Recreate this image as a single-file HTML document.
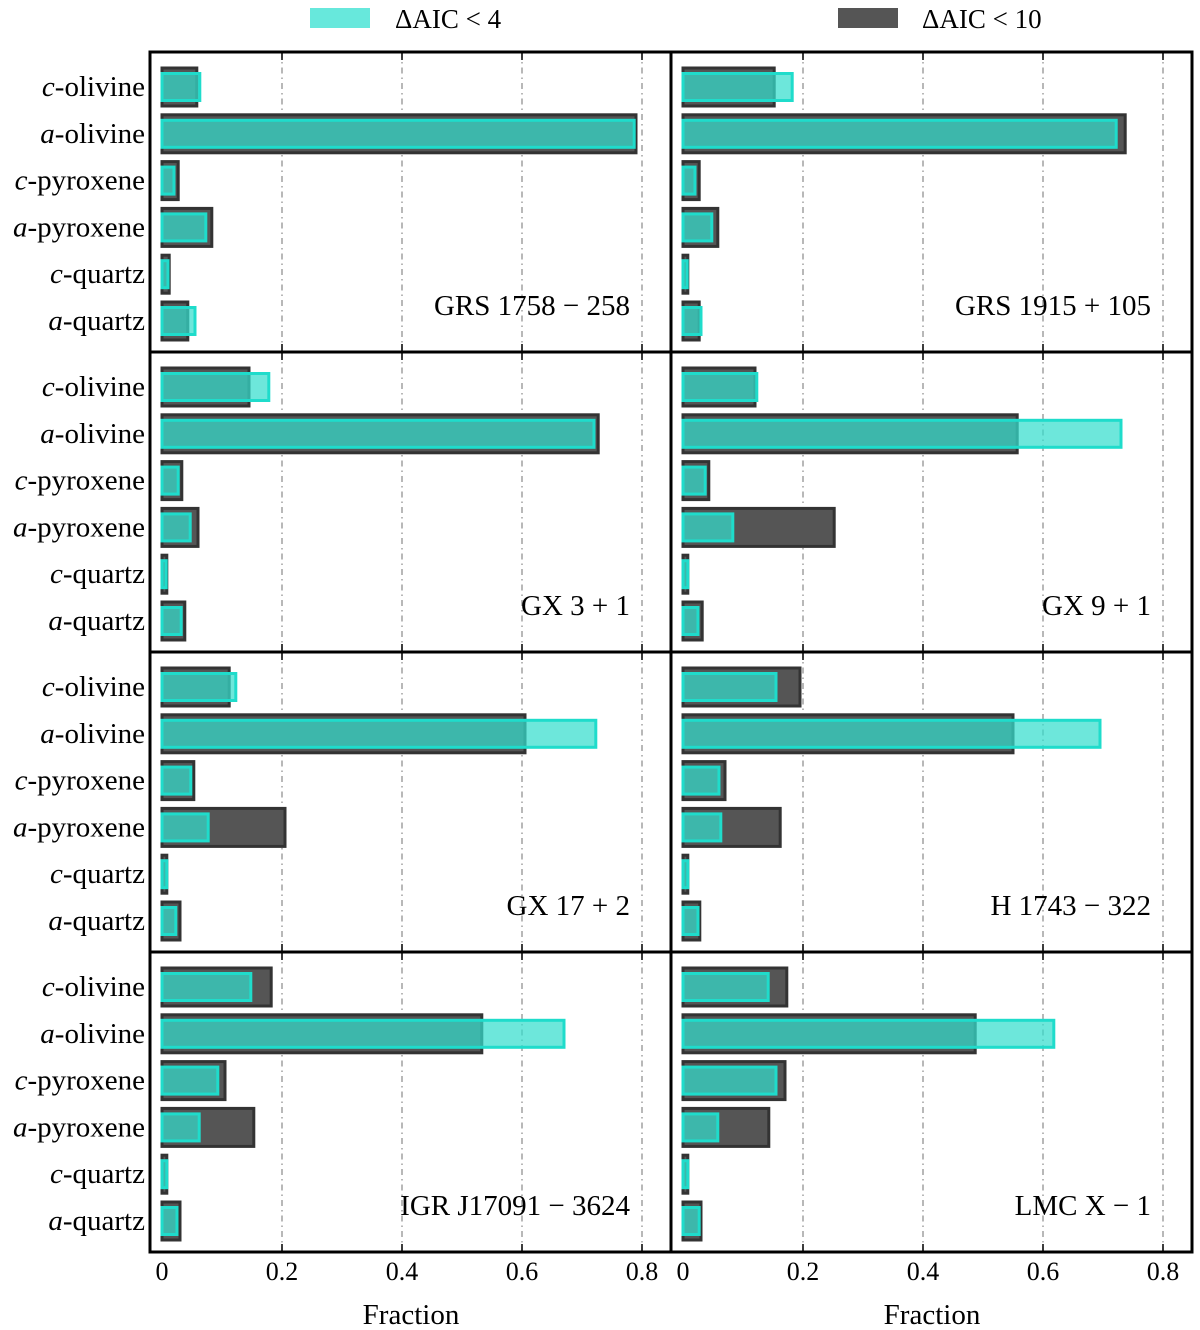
<!DOCTYPE html>
<html><head><meta charset="utf-8"><style>
html,body{margin:0;padding:0;background:#fff;}
svg{display:block;font-family:"Liberation Serif","DejaVu Serif",serif;}
</style></head><body>
<svg id="chart" width="1200" height="1330" xmlns="http://www.w3.org/2000/svg">
<g id="legend">
<rect x="310" y="8" width="60" height="20" fill="#67e8dc"/>
<text x="395" y="28" font-size="27">ΔAIC &lt; 4</text>
<rect x="838" y="8" width="60" height="20" fill="#555555"/>
<text x="922" y="28" font-size="27">ΔAIC &lt; 10</text>
</g>
</svg>
<script>
const categories = ["c-olivine","a-olivine","c-pyroxene","a-pyroxene","c-quartz","a-quartz"];
const sources = ["GRS 1758 − 258","GRS 1915 + 105","GX 3 + 1","GX 9 + 1","GX 17 + 2","H 1743 − 322","IGR J17091 − 3624","LMC X − 1"];
const aic10 = [
 [0.058,0.790,0.027,0.083,0.012,0.043],
 [0.152,0.737,0.027,0.058,0.008,0.027],
 [0.145,0.727,0.033,0.060,0.008,0.038],
 [0.120,0.557,0.043,0.252,0.008,0.032],
 [0.112,0.605,0.053,0.205,0.008,0.030],
 [0.195,0.550,0.070,0.162,0.008,0.028],
 [0.182,0.533,0.105,0.153,0.008,0.030],
 [0.173,0.487,0.170,0.143,0.008,0.030]
];
const aic4 = [
 [0.063,0.787,0.020,0.073,0.010,0.055],
 [0.182,0.722,0.020,0.048,0.007,0.030],
 [0.178,0.720,0.027,0.047,0.007,0.032],
 [0.123,0.730,0.037,0.083,0.008,0.025],
 [0.123,0.723,0.048,0.077,0.008,0.023],
 [0.155,0.695,0.060,0.063,0.008,0.025],
 [0.148,0.670,0.093,0.062,0.008,0.025],
 [0.142,0.618,0.155,0.058,0.008,0.027]
];
const xTicks = [0,0.2,0.4,0.6,0.8];
const xTickLabels = ["0","0.2","0.4","0.6","0.8"];

const NS="http://www.w3.org/2000/svg";
const svg=document.getElementById('chart');
function mk(tag,attrs,parent){const e=document.createElementNS(NS,tag);for(const k in attrs)e.setAttribute(k,attrs[k]);(parent||svg).appendChild(e);return e;}
const colX0=[162,683], panelL=[150,671], panelW=521, rowTop=[52,352,652,952], panelH=300;
function xs(col,v){return colX0[col]+v*600;}
function ys(row,i){return rowTop[row]+35+i*46.8;}

for(let p=0;p<8;p++){
  const col=p%2,row=Math.floor(p/2);
  const g=mk('g',{});
  
  
  for(let t=1;t<xTicks.length;t++){
    const gl=mk('line',{x1:xs(col,xTicks[t]),x2:xs(col,xTicks[t]),y1:rowTop[row],y2:rowTop[row]+panelH,stroke:'#888','stroke-width':1.2,'stroke-dasharray':'6 4 1.5 4'},g);
    
    
    mk('line',{x1:xs(col,xTicks[t]),x2:xs(col,xTicks[t]),y1:rowTop[row],y2:rowTop[row]+8,stroke:'#000','stroke-width':1.5},g);
    mk('line',{x1:xs(col,xTicks[t]),x2:xs(col,xTicks[t]),y1:rowTop[row]+panelH-8,y2:rowTop[row]+panelH,stroke:'#000','stroke-width':1.5},g);
  }
  for(let i=0;i<categories.length;i++){
    const yc=ys(row,i);
    const d=mk('rect',{x:xs(col,0),y:yc-19,width:Math.max(xs(col,aic10[p][i])-xs(col,0),1),height:38,fill:'#555555',stroke:'#333','stroke-width':3},g);
    
    
    const c=mk('rect',{x:xs(col,0),y:yc-13.5,width:Math.max(xs(col,aic4[p][i])-xs(col,0),1),height:27,fill:'rgba(52,222,205,0.72)',stroke:'#1fdccb','stroke-width':3},g);
    
    
    if(col===0){
      const [pre,rest]=categories[i].split('-');
      const t=mk('text',{x:145,y:yc+9,'font-size':29,'text-anchor':'end'},g);
      
      
      const s1=mk('tspan',{'font-style':'italic'},t);s1.textContent=pre;
      const s2=mk('tspan',{},t);s2.textContent='-'+rest;
    }
  }
  const lab=mk('text',{x:panelL[col]+480,y:rowTop[row]+263,'font-size':29,'text-anchor':'end'},g);
  lab.textContent=sources[p];
  
  
  const fr=mk('rect',{x:panelL[col],y:rowTop[row],width:panelW,height:panelH,fill:'none',stroke:'#000','stroke-width':3},g);
  
  
}
for(let col=0;col<2;col++){
  for(let t=0;t<xTicks.length;t++){
    const tl=mk('text',{x:xs(col,xTicks[t]),y:1280,'font-size':26,'text-anchor':'middle'});
    tl.textContent=xTickLabels[t];
    
    
  }
  const xt=mk('text',{x:panelL[col]+261,y:1324,'font-size':29,'text-anchor':'middle'});
  xt.textContent='Fraction';
  
  
}
</script>
</body></html>
